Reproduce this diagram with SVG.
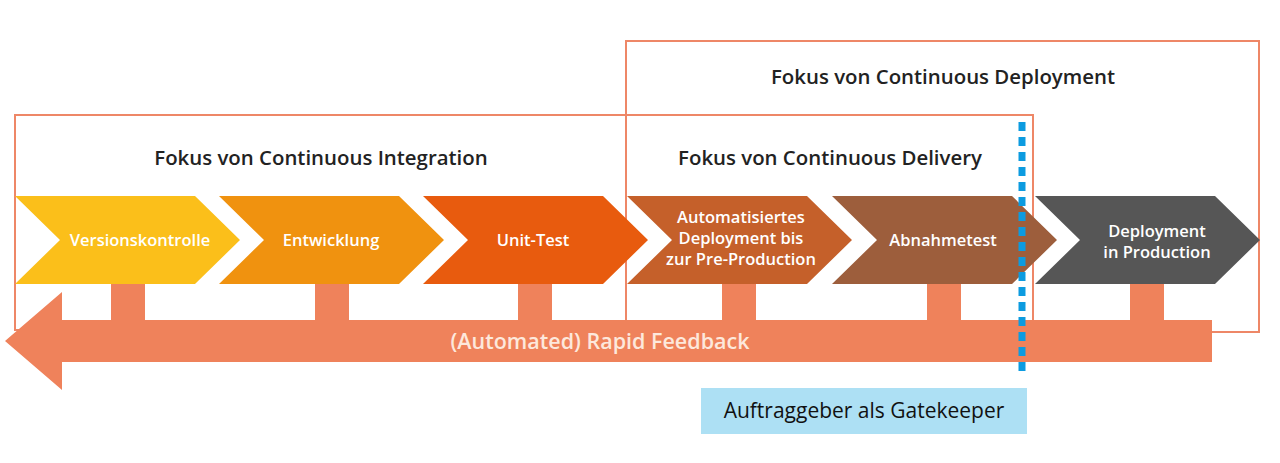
<svg xmlns="http://www.w3.org/2000/svg" width="1280" height="463" viewBox="0 0 1280 463">
<style>
.frame{fill:none;stroke:#ee8767;stroke-width:2}
.hd{font-family:"Open Sans",sans-serif;font-size:20.4px;font-weight:600;fill:#222;text-anchor:middle}
.lb{font-family:"Open Sans",sans-serif;font-size:16.5px;font-weight:600;fill:#fff;text-anchor:middle}
.fb{fill:#ef825b}
</style>
<rect width="1280" height="463" fill="#fff"/>
<g id="boxes">
<rect class="frame" x="626" y="41" width="633" height="291"/>
<rect class="frame" x="15" y="115" width="1018" height="215"/>
<text class="hd" x="943" y="84">Fokus von Continuous Deployment</text>
<text class="hd" x="321" y="165">Fokus von Continuous Integration</text>
<text class="hd" x="830" y="165">Fokus von Continuous Delivery</text>
</g>
<g id="feedback">
<rect class="fb" x="111" y="284" width="34" height="40"/>
<rect class="fb" x="315" y="284" width="34" height="40"/>
<rect class="fb" x="518" y="284" width="34" height="40"/>
<rect class="fb" x="722" y="284" width="34" height="40"/>
<rect class="fb" x="927" y="284" width="34" height="40"/>
<rect class="fb" x="1130" y="284" width="34" height="40"/>
<path class="fb" d="M5 341 L62 292 L62 320 L1212 320 L1212 362 L62 362 L62 390 Z"/>
<text x="600" y="349" class="lb" style="font-size:21.5px;fill:#fde8dc">(Automated) Rapid Feedback</text>
</g>
<g id="n1"><path d="M15 196 H195 L240 240 L195 284 H15 L60 240 Z" fill="#fbbf1a"/><text class="lb" x="140" y="246">Versionskontrolle</text></g>
<g id="n2"><path d="M219 196 H399 L444 240 L399 284 H219 L264 240 Z" fill="#f0920f"/><text class="lb" x="331" y="246">Entwicklung</text></g>
<g id="n3"><path d="M423 196 H603 L648 240 L603 284 H423 L468 240 Z" fill="#e85b0e"/><text class="lb" x="533" y="246">Unit-Test</text></g>
<g id="n4"><path d="M627 196 H807 L852 240 L807 284 H627 L672 240 Z" fill="#c5602a"/><text class="lb" x="741" y="223">Automatisiertes</text><text class="lb" x="741" y="244">Deployment bis</text><text class="lb" x="741" y="265">zur Pre-Production</text></g>
<g id="n5"><path d="M832 196 H1012 L1057 240 L1012 284 H832 L877 240 Z" fill="#9d5e3c"/><text class="lb" x="943" y="246">Abnahmetest</text></g>
<g id="n6"><path d="M1035 196 H1215 L1260 240 L1215 284 H1035 L1080 240 Z" fill="#565656"/><text class="lb" x="1157" y="237">Deployment</text><text class="lb" x="1157" y="258">in Production</text></g>
<g id="gate">
<line x1="1022" y1="122" x2="1022" y2="377" stroke="#0c9be0" stroke-width="7" stroke-dasharray="9 6"/>
<rect x="701" y="388" width="326" height="46" fill="#ade0f4"/>
<text x="864" y="418" style="font-family:'Open Sans',sans-serif;font-size:21px;font-weight:500;fill:#111;text-anchor:middle">Auftraggeber als Gatekeeper</text>
</g>
</svg>
